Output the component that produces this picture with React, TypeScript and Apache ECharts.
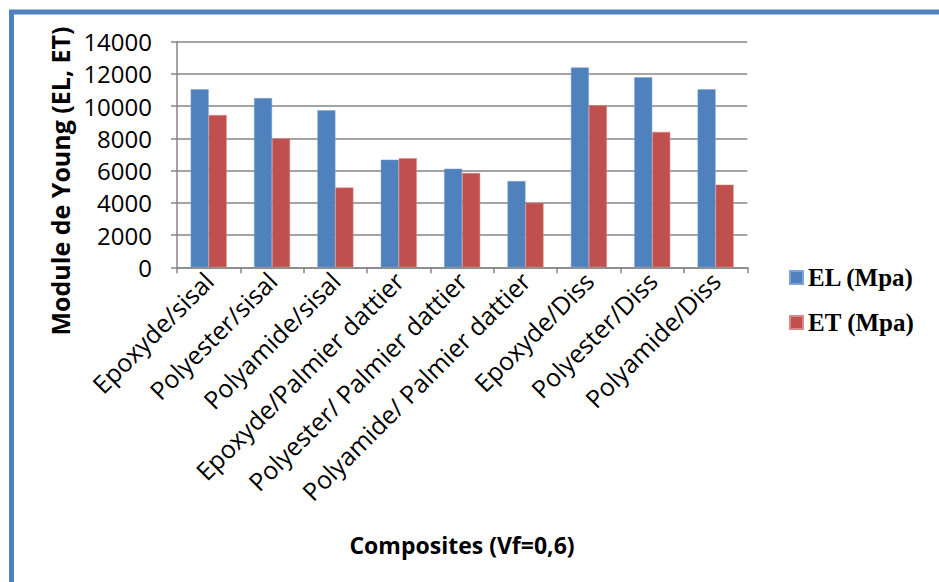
import React, { useEffect, useRef } from "react";
import * as echarts from "echarts";

const categories = [
  "Epoxyde/sisal",
  "Polyester/sisal",
  "Polyamide/sisal",
  "Epoxyde/Palmier dattier",
  "Polyester/ Palmier dattier",
  "Polyamide/ Palmier dattier",
  "Epoxyde/Diss",
  "Polyester/Diss",
  "Polyamide/Diss",
];
const elValues = [11050, 10500, 9750, 6680, 6120, 5350, 12400, 11800, 11050];
const etValues = [9450, 8000, 4950, 6770, 5850, 4000, 10050, 8400, 5130];
const seriesNames = ["EL (Mpa)", "ET (Mpa)"];
const yAxisTitle = "Module de Young (EL, ET)";
const xAxisTitle = "Composites (Vf=0,6)";

export default function App() {
  const ref = useRef<HTMLDivElement>(null);
  useEffect(() => {
    document.body.style.margin = "0";
    const chart = echarts.init(ref.current!, null, { renderer: "svg" });
    const sans = "Open Sans";
    chart.setOption({
      animation: false,
      backgroundColor: "#ffffff",
      grid: { left: 177, top: 41.7, right: 191.7, bottom: 314.7, containLabel: false },
      legend: {
        orient: "vertical",
        left: 789,
        top: 265,
        padding: 0,
        itemWidth: 13,
        itemHeight: 13,
        itemGap: 20,
        icon: "rect",
        textStyle: {
          fontFamily: "Liberation Serif",
          fontWeight: "bold",
          fontSize: 25,
          lineHeight: 25,
          color: "#000",
        },
        data: seriesNames,
      },
      xAxis: {
        type: "category",
        data: categories,
        axisLine: { lineStyle: { color: "#868686", width: 1.5 } },
        axisTick: { show: true, length: 6, lineStyle: { color: "#868686", width: 1.5 } },
        axisLabel: {
          rotate: 45,
          interval: 0,
          fontFamily: sans,
          fontSize: 25,
          color: "#000",
          margin: 9,
        },
      },
      yAxis: {
        type: "value",
        min: 0,
        max: 14000,
        interval: 2000,
        axisLine: { show: true, lineStyle: { color: "#868686", width: 1.5 } },
        axisTick: { show: true, length: 6, lineStyle: { color: "#868686", width: 1.5 } },
        splitLine: { lineStyle: { color: "#868686", width: 1.5 } },
        axisLabel: {
          fontFamily: sans,
          fontSize: 24,
          color: "#000",
          margin: 25,
          formatter: (v: number) => String(v),
        },
      },
      series: [
        {
          name: seriesNames[0],
          type: "bar",
          data: elValues,
          barWidth: 18,
          barGap: "0%",
          itemStyle: { color: "#4F81BD", borderColor: "#7ea3d4", borderWidth: 0.5 },
        },
        {
          name: seriesNames[1],
          type: "bar",
          data: etValues,
          barWidth: 18,
          barGap: "0%",
          itemStyle: { color: "#C0504D", borderColor: "#d98a88", borderWidth: 0.5 },
        },
      ],
      graphic: [
        {
          type: "rect",
          shape: { x: 11.5, y: 12, width: 1000, height: 700 },
          style: { fill: "none", stroke: "#4F81BD", lineWidth: 5 },
          silent: true,
        },
        {
          type: "text",
          x: 60,
          y: 181,
          rotation: Math.PI / 2,
          style: {
            text: yAxisTitle,
            fontFamily: sans,
            fontWeight: "bold",
            fontSize: 25,
            fill: "#000",
            align: "center",
            verticalAlign: "middle",
          },
        },
        {
          type: "text",
          x: 462,
          y: 545,
          style: {
            text: xAxisTitle,
            fontFamily: sans,
            fontWeight: "bold",
            fontSize: 23,
            fill: "#000",
            align: "center",
            verticalAlign: "middle",
          },
        },
      ],
    });
    return () => chart.dispose();
  }, []);
  return <div ref={ref} style={{ width: 939, height: 582 }} />;
}
